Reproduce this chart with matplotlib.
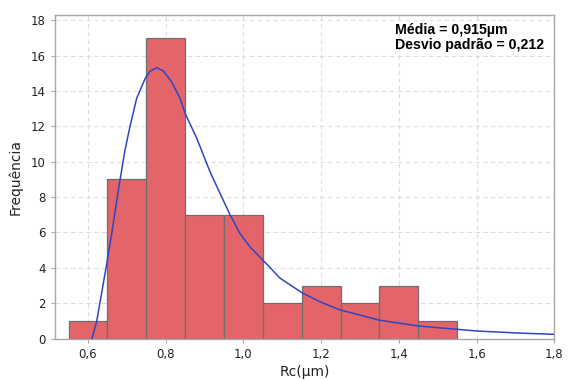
import matplotlib
matplotlib.use("Agg")
import matplotlib.pyplot as plt
from matplotlib.ticker import FuncFormatter

# Histogram bins (edges) and counts
bin_edges = [0.55, 0.65, 0.75, 0.85, 0.95, 1.05, 1.15, 1.25, 1.35, 1.45, 1.55]
counts = [1, 9, 17, 7, 7, 2, 3, 2, 3, 1]

# Fitted curve
curve_x = [0.61, 0.622, 0.646, 0.661, 0.678, 0.695, 0.708, 0.725, 0.747, 0.760,
           0.777, 0.794, 0.815, 0.837, 0.850, 0.880, 0.914, 0.944, 0.966, 0.991,
           1.017, 1.047, 1.069, 1.094, 1.15, 1.2, 1.249, 1.35, 1.451, 1.6,
           1.7, 1.8]
curve_y = [0.0, 0.94, 3.96, 5.94, 8.39, 10.65, 12.0, 13.58, 14.71, 15.13,
           15.32, 15.13, 14.52, 13.58, 12.73, 11.32, 9.43, 8.01, 6.98, 5.94,
           5.18, 4.5, 4.0, 3.42, 2.6, 2.05, 1.62, 1.04, 0.71, 0.43,
           0.32, 0.24]

x_ticks = [0.6, 0.8, 1.0, 1.2, 1.4, 1.6, 1.8]
y_ticks = [0, 2, 4, 6, 8, 10, 12, 14, 16, 18]

fig = plt.figure(figsize=(5.7, 3.8), dpi=100)
ax = fig.add_axes([0.0965, 0.109, 0.876, 0.8515])

widths = [b - a for a, b in zip(bin_edges[:-1], bin_edges[1:])]
ax.bar(bin_edges[:-1], counts, width=widths, align='edge',
       color='#E3656A', edgecolor='#6E6E6E', linewidth=0.9, zorder=2)
ax.plot(curve_x, curve_y, color='#2F45C8', linewidth=1.1, zorder=3)

ax.set_xlim(0.515, 1.8)
ax.set_ylim(0, 18.3)
ax.set_xticks(x_ticks)
ax.set_yticks(y_ticks)
ax.xaxis.set_major_formatter(FuncFormatter(lambda v, p: f"{v:.1f}".replace('.', ',')))
ax.grid(True, linestyle=(0, (4, 3)), color='#DDDDDD', linewidth=0.8, zorder=0)
ax.set_axisbelow(True)

for s in ax.spines.values():
    s.set_color('#A8A8A8')
    s.set_linewidth(1.0)
ax.tick_params(axis='both', colors='#A8A8A8', labelcolor='#222222',
               labelsize=8.5, length=3)

ax.set_xlabel('Rc(µm)', fontsize=10, color='#222222', labelpad=3)
ax.set_ylabel('Frequência', fontsize=10, color='#222222', labelpad=6)

ax.text(0.68, 0.975, 'Média = 0,915µm\nDesvio padrão = 0,212',
        transform=ax.transAxes, ha='left', va='top', fontsize=10.2,
        fontweight='bold', family='Liberation Sans', linespacing=1.05)

fig.savefig('out.png', dpi=100)
